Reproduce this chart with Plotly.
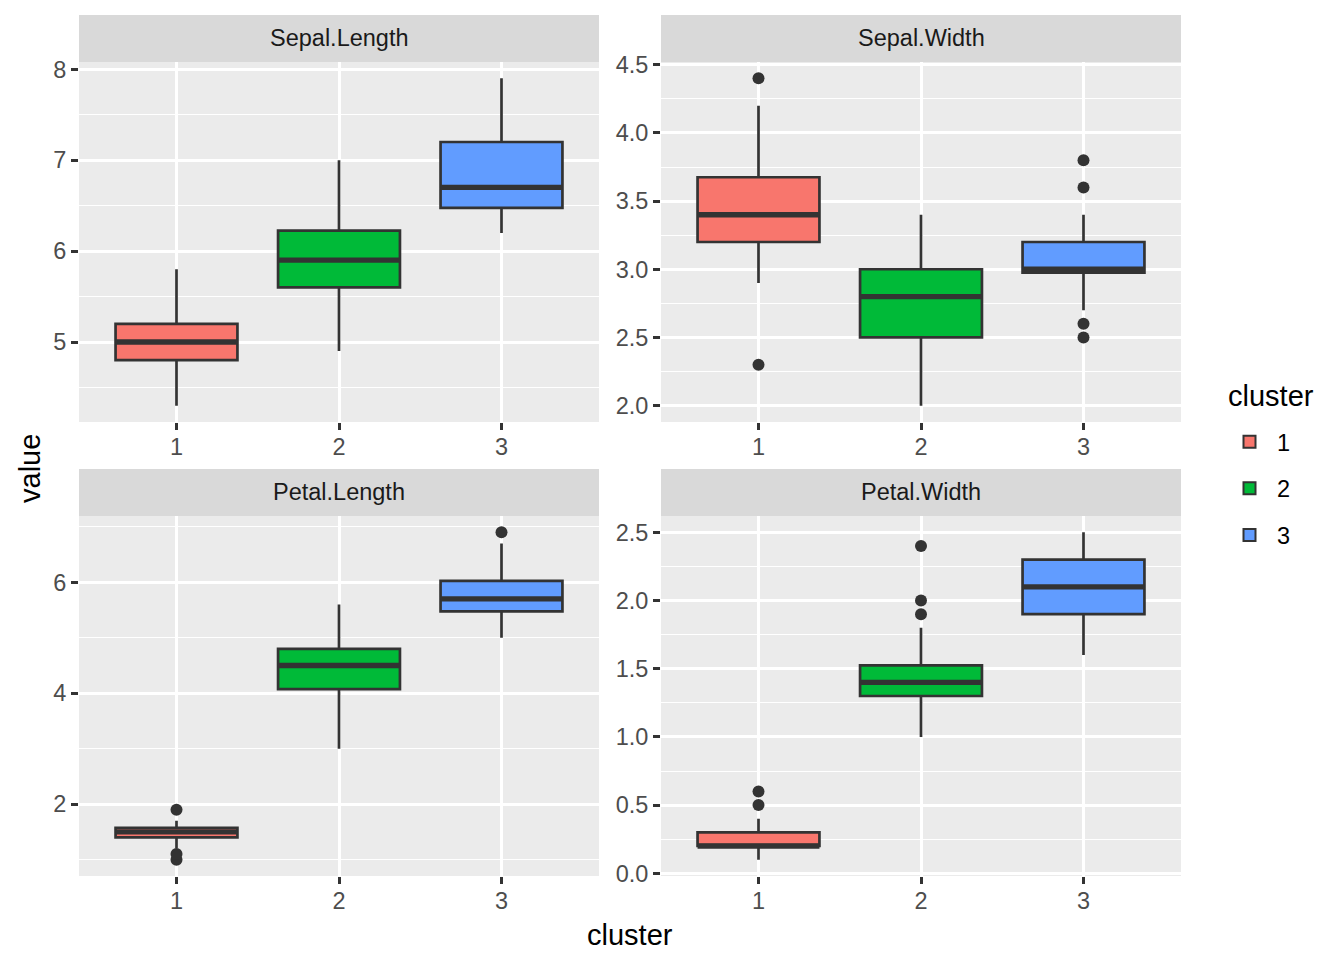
import plotly.graph_objects as go

W, H = 1344, 960
OFF = 8  # page body margin shift in the screenshot
FONT = "Liberation Sans"

clusters = [1, 2, 3]
cluster_labels = ["1", "2", "3"]
fill_colors = ["#F8766D", "#00BA38", "#619CFF"]

facets = ["Sepal.Length", "Sepal.Width", "Petal.Length", "Petal.Width"]

# box statistics per facet: [cluster1, cluster2, cluster3]
lower = {
    "Sepal.Length": [4.3, 4.9, 6.2],
    "Sepal.Width": [2.9, 2.0, 2.7],
    "Petal.Length": [1.2, 3.0, 5.0],
    "Petal.Width": [0.1, 1.0, 1.6],
}
q1 = {
    "Sepal.Length": [4.8, 5.6, 6.475],
    "Sepal.Width": [3.2, 2.5, 2.975],
    "Petal.Length": [1.4, 4.075, 5.475],
    "Petal.Width": [0.2, 1.3, 1.9],
}
median = {
    "Sepal.Length": [5.0, 5.9, 6.7],
    "Sepal.Width": [3.4, 2.8, 3.0],
    "Petal.Length": [1.5, 4.5, 5.7],
    "Petal.Width": [0.2, 1.4, 2.1],
}
q3 = {
    "Sepal.Length": [5.2, 6.225, 7.2],
    "Sepal.Width": [3.675, 3.0, 3.2],
    "Petal.Length": [1.575, 4.8, 6.025],
    "Petal.Width": [0.3, 1.525, 2.3],
}
upper = {
    "Sepal.Length": [5.8, 7.0, 7.9],
    "Sepal.Width": [4.2, 3.4, 3.4],
    "Petal.Length": [1.7, 5.6, 6.7],
    "Petal.Width": [0.4, 1.8, 2.5],
}
# outliers: (cluster, value)
outlier_cluster = {
    "Sepal.Length": [],
    "Sepal.Width": [1, 1, 3, 3, 3, 3],
    "Petal.Length": [1, 1, 1, 3],
    "Petal.Width": [1, 1, 2, 2, 2],
}
outlier_value = {
    "Sepal.Length": [],
    "Sepal.Width": [4.4, 2.3, 3.8, 3.6, 2.6, 2.5],
    "Petal.Length": [1.9, 1.0, 1.1, 6.9],
    "Petal.Width": [0.5, 0.6, 1.9, 2.0, 2.4],
}

# axis settings
y_ranges = {
    "Sepal.Length": [4.12, 8.08],
    "Sepal.Width": [1.88, 4.52],
    "Petal.Length": [0.705, 7.195],
    "Petal.Width": [-0.02, 2.62],
}
y_ticks = {
    "Sepal.Length": [5, 6, 7, 8],
    "Sepal.Width": [2.0, 2.5, 3.0, 3.5, 4.0, 4.5],
    "Petal.Length": [2, 4, 6],
    "Petal.Width": [0.0, 0.5, 1.0, 1.5, 2.0, 2.5],
}
y_ticktext = {
    "Sepal.Length": ["5", "6", "7", "8"],
    "Sepal.Width": ["2.0", "2.5", "3.0", "3.5", "4.0", "4.5"],
    "Petal.Length": ["2", "4", "6"],
    "Petal.Width": ["0.0", "0.5", "1.0", "1.5", "2.0", "2.5"],
}
y_minor = {
    "Sepal.Length": [4.5, 5.5, 6.5, 7.5],
    "Sepal.Width": [2.25, 2.75, 3.25, 3.75, 4.25],
    "Petal.Length": [1, 3, 5, 7],
    "Petal.Width": [0.25, 0.75, 1.25, 1.75, 2.25],
}

# panel pixel boxes in the target image (left, right, top, bottom)
px_panels = [(79, 599, 62, 422), (661, 1181, 62, 422),
             (79, 599, 516, 876), (661, 1181, 516, 876)]
STRIP_H = 47
BOX_W = 0.75
DARK = "#333333"


def px(xpix):
    return (xpix - OFF) / W


def py(ypix):
    return 1 - (ypix - OFF) / H


fig = go.Figure()
layout = dict()
shapes = []
annotations = []

for i, fac in enumerate(facets):
    n = "" if i == 0 else str(i + 1)
    xa, ya = "x" + n, "y" + n
    l, r, t, b = px_panels[i]
    for j, c in enumerate(clusters):
        fig.add_trace(go.Box(
            x=[c], q1=[q1[fac][j]], median=[median[fac][j]], q3=[q3[fac][j]],
            lowerfence=[lower[fac][j]], upperfence=[upper[fac][j]],
            width=BOX_W, fillcolor=fill_colors[j],
            line=dict(color=DARK, width=2.7), whiskerwidth=0,
            boxpoints=False, name=cluster_labels[j],
            legendgroup=cluster_labels[j], showlegend=(i == 0),
            xaxis=xa, yaxis=ya, hoverinfo="skip",
        ))
        # thick median line (ggplot fatten)
        fig.add_trace(go.Scatter(
            x=[c - BOX_W / 2, c + BOX_W / 2], y=[median[fac][j]] * 2,
            mode="lines", line=dict(color=DARK, width=5.3),
            showlegend=False, xaxis=xa, yaxis=ya, hoverinfo="skip",
        ))
    if outlier_value[fac]:
        fig.add_trace(go.Scatter(
            x=outlier_cluster[fac], y=outlier_value[fac], mode="markers",
            marker=dict(color=DARK, size=12, line=dict(width=0)),
            showlegend=False, xaxis=xa, yaxis=ya, hoverinfo="skip",
        ))

    layout["xaxis" + n] = dict(
        domain=[px(l), px(r)], anchor=ya, range=[0.4, 3.6],
        tickmode="array", tickvals=clusters, ticktext=cluster_labels,
        showgrid=True, gridcolor="white", gridwidth=2.8,
        ticks="outside", ticklen=7, tickwidth=2.7, tickcolor=DARK,
        ticklabelstandoff=-3,
        tickfont=dict(family=FONT, size=23.5, color="#4D4D4D"),
        showline=False, zeroline=False, automargin=False, fixedrange=True,
    )
    layout["yaxis" + n] = dict(
        domain=[py(b), py(t)], anchor=xa, range=y_ranges[fac],
        tickmode="array", tickvals=y_ticks[fac], ticktext=y_ticktext[fac],
        showgrid=True, gridcolor="white", gridwidth=2.8,
        minor=dict(tickmode="array", tickvals=y_minor[fac], showgrid=True,
                   gridcolor="white", gridwidth=1.4, ticks=""),
        ticks="outside", ticklen=7, tickwidth=2.7, tickcolor=DARK,
        tickfont=dict(family=FONT, size=23.5, color="#4D4D4D"),
        showline=False, zeroline=False, automargin=False, fixedrange=True,
    )
    # facet strip
    shapes.append(dict(type="rect", xref="paper", yref="paper",
                       x0=px(l), x1=px(r), y0=py(t), y1=py(t - STRIP_H),
                       fillcolor="#D9D9D9", line=dict(width=0), layer="below"))
    annotations.append(dict(text=fac, xref="paper", yref="paper",
                            x=px((l + r) / 2), y=py(t - STRIP_H / 2),
                            showarrow=False, xanchor="center", yanchor="middle",
                            font=dict(family=FONT, size=23.5, color="#1A1A1A")))

annotations.append(dict(text="cluster", xref="paper", yref="paper",
                        x=px(630), y=py(935), showarrow=False,
                        xanchor="center", yanchor="middle",
                        font=dict(family=FONT, size=29, color="black")))
annotations.append(dict(text="value", xref="paper", yref="paper",
                        x=px(30), y=py(469), showarrow=False, textangle=-90,
                        xanchor="center", yanchor="middle",
                        font=dict(family=FONT, size=29, color="black")))
# legend title
annotations.append(dict(text="cluster", xref="paper", yref="paper",
                        x=px(1226), y=py(396), showarrow=False,
                        xanchor="left", yanchor="middle",
                        font=dict(family=FONT, size=29, color="black")))

fig.update_layout(
    **layout,
    template="none",
    width=W, height=H,
    margin=dict(l=0, r=0, t=0, b=0),
    paper_bgcolor="white", plot_bgcolor="#EBEBEB",
    shapes=shapes, annotations=annotations,
    boxmode="overlay",
    showlegend=True,
    legend=dict(
        font=dict(family=FONT, size=23.5, color="black"),
        x=px(1222), y=py(420), xanchor="left", yanchor="top",
        bgcolor="rgba(0,0,0,0)", tracegroupgap=13, itemsizing="constant",
        itemwidth=45,
    ),
)

fig.write_html("out.html")
